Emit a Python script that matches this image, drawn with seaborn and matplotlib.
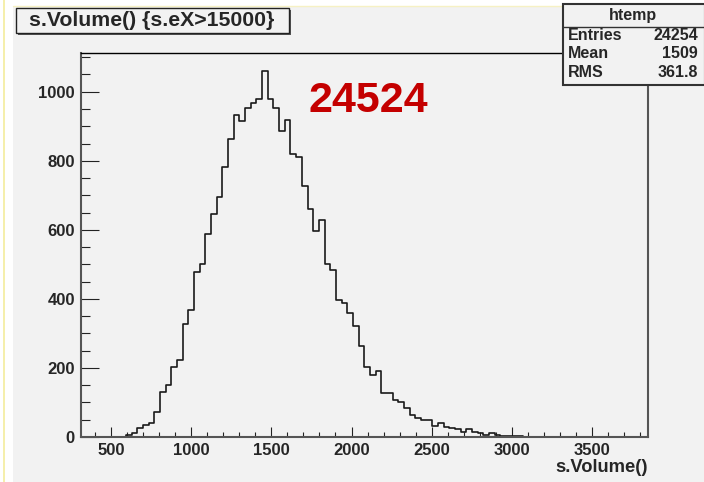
import numpy as np
import pandas as pd
import matplotlib
matplotlib.use("Agg")
import matplotlib.pyplot as plt
from matplotlib.patches import Rectangle
from matplotlib.ticker import MultipleLocator
import seaborn as sns

# Histogram of s.Volume() for s.eX > 15000: 100 bins between the axis limits
x_lo, x_hi, n_bins = 308.0, 3851.0, 100
counts = [
    0, 0, 0, 0, 0, 0, 0, 0,
    5, 12, 27, 35, 40, 73, 129, 150, 202, 223,
    326, 368, 477, 500, 587, 647, 695, 782, 862, 934,
    915, 954, 967, 980, 1060, 978, 954, 887, 918, 821,
    811, 726, 659, 596, 629, 500, 484, 398, 387, 358,
    322, 264, 203, 179, 190, 128, 126, 107, 102, 85,
    64, 56, 49, 49, 33, 41, 30, 26, 22, 14,
    22, 15, 11, 7, 12, 5, 3, 2, 2, 3,
    0, 0, 0, 1, 0, 1, 0, 0, 0, 0,
    0, 0, 0, 0, 0, 0, 0, 0, 0, 0,
    0, 0,
]
stats_labels = ["Entries", "Mean", "RMS"]
stats_values = ["24254", "1509", "361.8"]
hist_name = "htemp"
title_text = "s.Volume() {s.eX>15000}"
x_title = "s.Volume()"
note_text = "24524"

edges = np.linspace(x_lo, x_hi, n_bins + 1)
centers = 0.5 * (edges[:-1] + edges[1:])
df = pd.DataFrame({"volume": centers, "n": counts})

sns.set_style("white")
plt.rcParams["font.family"] = ["Liberation Sans", "DejaVu Sans"]

W, H = 704, 482
canvas_grey = "#f2f2f2"
fig = plt.figure(figsize=(W / 100, H / 100), dpi=100, facecolor="white")

# pixel-space overlay for the canvas decorations
ov = fig.add_axes([0, 0, 1, 1], zorder=0)
ov.set_xlim(0, W)
ov.set_ylim(H, 0)
ov.axis("off")
ov.add_patch(Rectangle((13, 6), W - 13, H - 6, facecolor=canvas_grey, edgecolor="none"))
ov.plot([4, 4], [0, H], color="#f3ec9c", lw=1.2)
ov.plot([13, 562], [5.5, 5.5], color="#f6f1c4", lw=1.0)

left, right, top, bottom = 80.5, 648, 52.7, 437
ax = fig.add_axes([left / W, 1 - bottom / H, (right - left) / W, (bottom - top) / H], zorder=2)
ax.set_facecolor(canvas_grey)

sns.histplot(data=df, x="volume", weights="n", bins=list(edges), element="step",
             fill=False, color="#1a1a1a", linewidth=1.2, ax=ax)

ax.set_xlim(x_lo, x_hi)
ax.set_ylim(0, 1113)
ax.xaxis.set_major_locator(MultipleLocator(500))
ax.xaxis.set_minor_locator(MultipleLocator(100))
ax.yaxis.set_major_locator(MultipleLocator(200))
ax.yaxis.set_minor_locator(MultipleLocator(50))
ax.tick_params(which="both", bottom=True, left=True, top=False, right=False)
ax.tick_params(axis="y", which="major", direction="in", length=13, width=0.8,
               color="#222222", pad=4, labelsize=12)
ax.tick_params(axis="y", which="minor", direction="in", length=6.5, width=0.8, color="#222222")
ax.tick_params(axis="x", which="major", direction="in", length=7.5, width=0.8,
               color="#222222", pad=4, labelsize=12)
ax.tick_params(axis="x", which="minor", direction="in", length=3.8, width=0.8, color="#222222")
for lab in ax.get_xticklabels() + ax.get_yticklabels():
    lab.set_fontweight("bold")
ax.set_ylabel("")
ax.set_xlabel(x_title, loc="right", fontsize=13.2, fontweight="bold", labelpad=1.0)
for side in ["left", "bottom", "right"]:
    ax.spines[side].set_color("#555555")
    ax.spines[side].set_linewidth(1.5)
ax.spines["top"].set_color("black")
ax.spines["top"].set_linewidth(1.0)

ax.text(0.507, 0.874, note_text, transform=ax.transAxes, color="#c40000",
        fontsize=31, fontweight="bold", ha="center", va="center")

# title box with shadow
top_ov = fig.add_axes([0, 0, 1, 1], zorder=5)
top_ov.set_xlim(0, W)
top_ov.set_ylim(H, 0)
top_ov.axis("off")
top_ov.add_patch(Rectangle((18, 10), 273, 25, facecolor="#555555", edgecolor="none"))
top_ov.add_patch(Rectangle((15.5, 8), 273, 25, facecolor=canvas_grey, edgecolor="#222222", lw=1.0))
top_ov.text(152, 20.5, title_text, fontsize=15.3, fontweight="bold", ha="center", va="center")

# statistics box
top_ov.add_patch(Rectangle((563, 4), 142, 81, facecolor=canvas_grey, edgecolor="#333333", lw=1.5))
top_ov.plot([563, 704], [27, 27], color="#333333", lw=1.0)
top_ov.text(633, 15.5, hist_name, fontsize=11.5, fontweight="bold", ha="center", va="center")
for i, (lab, val) in enumerate(zip(stats_labels, stats_values)):
    yy = 35.5 + i * 18.5
    top_ov.text(568, yy, lab, fontsize=11.5, fontweight="bold", ha="left", va="center")
    top_ov.text(698, yy, val, fontsize=11.5, fontweight="bold", ha="right", va="center")

fig.savefig("out.png", dpi=100, facecolor="white")
